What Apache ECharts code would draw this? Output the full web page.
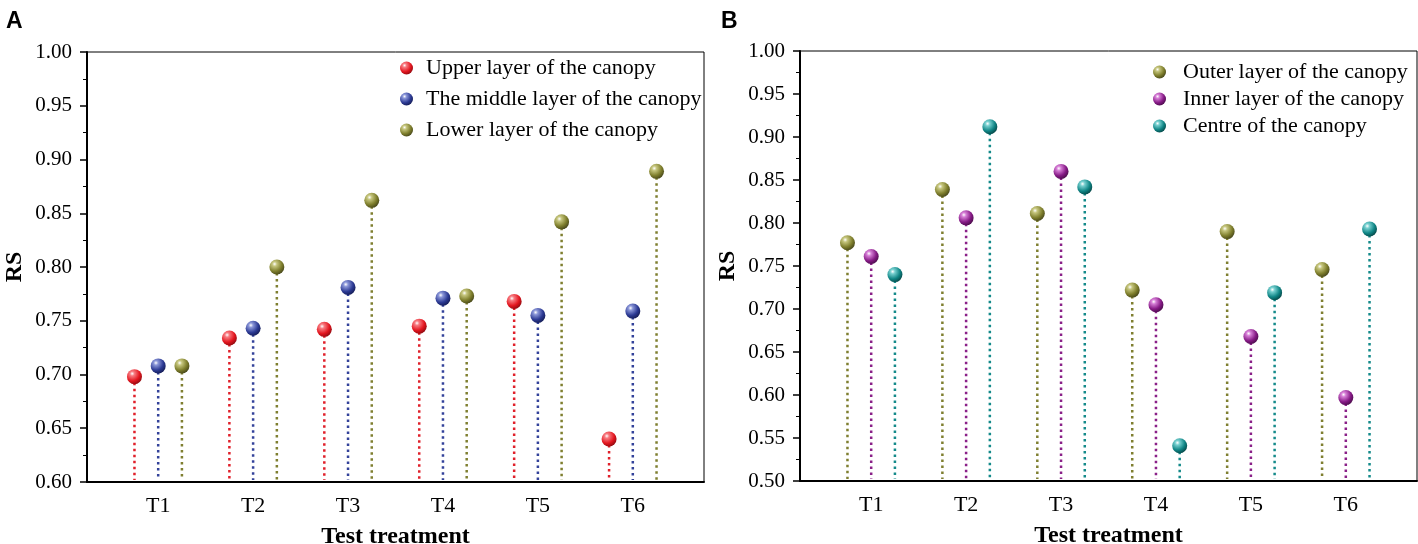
<!DOCTYPE html>
<html>
<head>
<meta charset="utf-8">
<script src="https://cdn.jsdelivr.net/npm/echarts@6/dist/echarts.min.js"></script>
<style>
  html, body { margin: 0; padding: 0; background: #fff; }
  #main { width: 1418px; height: 544px; }
</style>
</head>
<body>
<div id="main"></div>
<script>
var treatments = ['T1', 'T2', 'T3', 'T4', 'T5', 'T6'];

// panel A - vertical position in the canopy
var namesA = ['Upper layer of the canopy', 'The middle layer of the canopy', 'Lower layer of the canopy'];
var upperA  = [0.698, 0.734, 0.742, 0.745, 0.768, 0.640];
var middleA = [0.708, 0.743, 0.781, 0.771, 0.755, 0.759];
var lowerA  = [0.708, 0.800, 0.862, 0.773, 0.842, 0.889];

// panel B - horizontal position in the canopy
var namesB = ['Outer layer of the canopy', 'Inner layer of the canopy', 'Centre of the canopy'];
var outerB  = [0.777, 0.839, 0.811, 0.722, 0.790, 0.746];
var innerB  = [0.761, 0.806, 0.860, 0.705, 0.668, 0.597];
var centreB = [0.740, 0.912, 0.842, 0.541, 0.719, 0.793];

var ticksA = [0.60, 1.00];
var ticksB = [0.50, 1.00];

var serif = 'Liberation Serif';
var offsets = [-0.25, 0, 0.25];

function ball(base, light, dark) {
  return new echarts.graphic.RadialGradient(0.35, 0.3, 0.75, [
    {offset: 0, color: '#ffffff'},
    {offset: 0.2, color: light},
    {offset: 0.65, color: base},
    {offset: 1, color: dark}
  ]);
}

var colA = [
  {line: '#e0202a', fill: ball('#e3161f', '#f77a80', '#8f0a10')},
  {line: '#33429a', fill: ball('#2c3a94', '#8a96d8', '#141c55')},
  {line: '#7f7f30', fill: ball('#7e7e2c', '#c6c67e', '#46461a')}
];
var colB = [
  {line: '#7f7f30', fill: ball('#7e7e2c', '#c6c67e', '#46461a')},
  {line: '#8a2088', fill: ball('#861a86', '#d67ed6', '#4a0c4a')},
  {line: '#148a8a', fill: ball('#0f8585', '#76cfcf', '#064646')}
];

function buildSeries(names, lists, cols, idx, yMin) {
  var out = [];
  lists.forEach(function (vals, k) {
    var pts = vals.map(function (v, i) { return [i + 1 + offsets[k], v]; });
    // dotted stem from the axis up to the point
    out.push({
      type: 'custom',
      name: names[k] + ' stem',
      xAxisIndex: idx, yAxisIndex: idx,
      z: 2,
      silent: true,
      encode: {x: 0, y: 1},
      data: pts,
      renderItem: function (params, api) {
        var top = api.coord([api.value(0), api.value(1)]);
        var bot = api.coord([api.value(0), yMin]);
        return {
          type: 'line',
          shape: {x1: top[0], y1: top[1], x2: bot[0], y2: bot[1] - 2},
          style: {stroke: cols[k].line, lineWidth: 2.5, lineDash: [2.5, 3.5]}
        };
      }
    });
    out.push({
      type: 'scatter',
      name: names[k],
      xAxisIndex: idx, yAxisIndex: idx,
      z: 3,
      symbol: 'circle',
      symbolSize: 15,
      itemStyle: {color: cols[k].fill, opacity: 1},
      data: pts
    });
  });
  return out;
}

function xAx(idx) {
  return {
    type: 'value', gridIndex: idx, min: 0.25, max: 6.75,
    name: 'Test treatment', nameLocation: 'middle', nameGap: 43,
    nameTextStyle: {fontFamily: serif, fontWeight: 'bold', fontSize: 24, color: '#000'},
    axisLine: {show: true, onZero: false, lineStyle: {color: '#000', width: 2}},
    axisTick: {show: false},
    splitLine: {show: false},
    axisLabel: {
      customValues: [1, 2, 3, 4, 5, 6],
      formatter: function (v) { return treatments[Math.round(v) - 1]; },
      fontFamily: serif, fontSize: 22, color: '#000', margin: 13
    }
  };
}

function yAx(idx, ticks) {
  return {
    type: 'value', gridIndex: idx, min: ticks[0], max: ticks[1], interval: 0.05,
    name: 'RS', nameLocation: 'middle', nameGap: 60,
    nameTextStyle: {fontFamily: serif, fontWeight: 'bold', fontSize: 24, color: '#000'},
    axisLine: {show: true, lineStyle: {color: '#000', width: 2}},
    axisTick: {show: true, inside: false, length: 7, lineStyle: {color: '#000', width: 1.5}},
    minorTick: {show: true, splitNumber: 2, length: 4, lineStyle: {color: '#000', width: 1}},
    splitLine: {show: false},
    axisLabel: {
      formatter: function (v) { return v.toFixed(2); },
      fontFamily: serif, fontSize: 21, color: '#000', margin: 15
    }
  };
}

var chart = echarts.init(document.getElementById('main'));
var option = {
  animation: false,
  backgroundColor: '#fff',
  title: [
    {text: 'A', left: 1, top: 5, textStyle: {fontFamily: 'Liberation Sans', fontWeight: 'bold', fontSize: 23, color: '#000'}},
    {text: 'B', left: 716, top: 5, textStyle: {fontFamily: 'Liberation Sans', fontWeight: 'bold', fontSize: 23, color: '#000'}}
  ],
  grid: [
    {left: 87, top: 52, width: 617, height: 430, outerBoundsMode: 'none', containLabel: false,
     show: true, borderColor: '#000', borderWidth: 1, backgroundColor: 'transparent'},
    {left: 800, top: 51, width: 617, height: 430, outerBoundsMode: 'none', containLabel: false,
     show: true, borderColor: '#000', borderWidth: 1, backgroundColor: 'transparent'}
  ],
  legend: [
    {
      data: namesA, orient: 'vertical', left: 395, top: 52, itemGap: 9,
      itemWidth: 13, itemHeight: 13, icon: 'circle',
      textStyle: {fontFamily: serif, fontSize: 22, color: '#000', padding: [0, 0, 0, 8]}
    },
    {
      data: namesB, orient: 'vertical', left: 1148, top: 56, itemGap: 5,
      itemWidth: 13, itemHeight: 13, icon: 'circle',
      textStyle: {fontFamily: serif, fontSize: 22, color: '#000', padding: [0, 0, 0, 12]}
    }
  ],
  xAxis: [xAx(0), xAx(1)],
  yAxis: [yAx(0, ticksA), yAx(1, ticksB)],
  series: buildSeries(namesA, [upperA, middleA, lowerA], colA, 0, ticksA[0])
    .concat(buildSeries(namesB, [outerB, innerB, centreB], colB, 1, ticksB[0]))
};
chart.setOption(option);
</script>
</body>
</html>
